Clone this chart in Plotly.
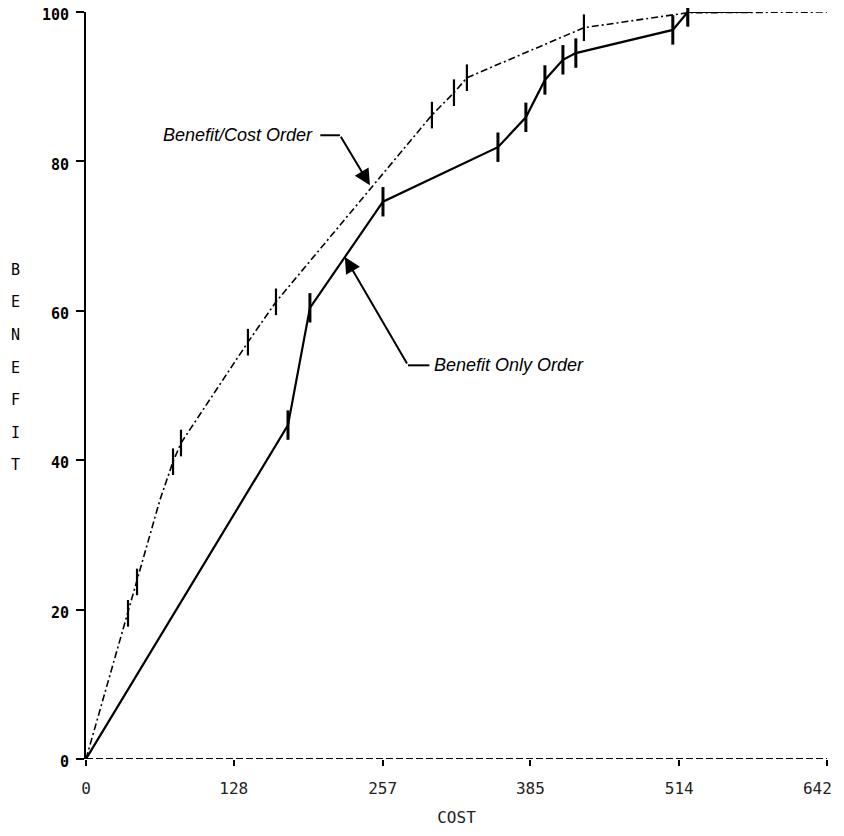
import plotly.graph_objects as go

# Benefit/Cost Order (dash-dot curve)
bc_cost = [0, 36.4, 44.2, 64.1, 75.4, 82.3, 140.3, 164.6, 299.7, 318.8, 330.0, 431.4, 521.4, 642]
bc_benefit = [0, 19.5, 23.7, 34.7, 39.8, 42.3, 55.8, 61.2, 86.2, 89.2, 91.2, 97.9, 99.9, 100]
bc_tick = [0, 1, 1, 0, 1, 1, 1, 1, 1, 1, 1, 1, 1, 0]

# Benefit Only Order (solid curve)
bo_cost = [0, 175.0, 194.0, 257.3, 356.9, 381.1, 397.6, 413.2, 424.4, 508.4, 521.4, 577]
bo_benefit = [0, 44.7, 60.4, 74.6, 81.9, 85.9, 90.9, 93.6, 94.5, 97.6, 100, 100]
bo_tick = [0, 1, 1, 1, 1, 1, 1, 1, 1, 1, 1, 0]

x_ticks = [0, 128, 257, 385, 514, 642]
y_ticks = [0, 20, 40, 60, 80, 100]
y_title_letters = list("BENEFIT")

MONO = "DejaVu Sans Mono"
SANS = "Liberation Sans"

# last x label padded so it stays inside the visible page edge
x_ticktext = [str(v) for v in x_ticks]
x_ticktext[-1] = x_ticktext[-1] + "&nbsp;&nbsp;"

fig = go.Figure()

fig.add_trace(go.Scatter(
    x=bc_cost, y=bc_benefit, mode="lines",
    line=dict(color="black", width=1.6, dash="7px,3px,2px,3px"),
    cliponaxis=False, showlegend=False))
fig.add_trace(go.Scatter(
    x=[c for c, t in zip(bc_cost, bc_tick) if t],
    y=[b for b, t in zip(bc_benefit, bc_tick) if t],
    mode="markers",
    marker=dict(symbol="line-ns", size=19, line=dict(color="black", width=2.2)),
    cliponaxis=False, showlegend=False))

fig.add_trace(go.Scatter(
    x=bo_cost, y=bo_benefit, mode="lines",
    line=dict(color="black", width=2.2),
    cliponaxis=False, showlegend=False))
fig.add_trace(go.Scatter(
    x=[c for c, t in zip(bo_cost, bo_tick) if t],
    y=[b for b, t in zip(bo_benefit, bo_tick) if t],
    mode="markers",
    marker=dict(symbol="line-ns", size=21, line=dict(color="black", width=3)),
    cliponaxis=False, showlegend=False))

# dashed x-axis line
fig.add_shape(type="line", xref="x", yref="y", x0=0, x1=642, y0=0, y1=0,
              line=dict(color="black", width=2, dash="7px,3px"))

# Benefit/Cost Order label with bent arrow
fig.add_annotation(x=198.4, y=83.5, xref="x", yref="y", text="Benefit/Cost Order",
                   showarrow=False, xanchor="right", yanchor="middle",
                   font=dict(family=SANS, size=18, color="black", style="italic"))
fig.add_shape(type="line", xref="x", yref="y", x0=203, x1=220, y0=83.5, y1=83.5,
              line=dict(color="black", width=2))
fig.add_annotation(x=246, y=76.8, xref="x", yref="y", ax=-30, ay=-50, text="",
                   showarrow=True, arrowhead=2, arrowsize=1.6, arrowwidth=2,
                   arrowcolor="black", standoff=0)

# Benefit Only Order label with bent arrow
fig.add_annotation(x=299.7, y=52.7, xref="x", yref="y", text="Benefit Only Order",
                   showarrow=False, xanchor="left", yanchor="middle",
                   font=dict(family=SANS, size=18, color="black", style="italic"))
fig.add_shape(type="line", xref="x", yref="y", x0=279, x1=297.5, y0=52.7, y1=52.7,
              line=dict(color="black", width=2))
fig.add_annotation(x=224.3, y=67.2, xref="x", yref="y", ax=63, ay=108, text="",
                   showarrow=True, arrowhead=2, arrowsize=1.6, arrowwidth=2,
                   arrowcolor="black", standoff=0)

# stacked y-axis title letters (paper coords; plot spans 741 x 747 px)
for i, ch in enumerate(y_title_letters):
    py = 270 + i * 32.5
    fig.add_annotation(x=(15 - 86) / 741, y=(759 - py) / 747, xref="paper", yref="paper",
                       text=ch, showarrow=False, xanchor="center", yanchor="middle",
                       font=dict(family=MONO, size=15, color="black"))

# page body has an 8px margin: figure offset by 8px so the plot sits at page px 86..827, 12..759
fig.update_layout(
    width=836, height=820,
    margin=dict(l=78, r=17, t=4, b=69),
    plot_bgcolor="white", paper_bgcolor="white",
    xaxis=dict(range=[0, 642], tickvals=x_ticks, ticktext=x_ticktext,
               showgrid=False, zeroline=False, showline=False, automargin=False,
               ticks="outside", ticklen=6, tickwidth=2, tickcolor="black",
               ticklabelstandoff=9, ticklabeloverflow="allow",
               tickfont=dict(family=MONO, size=16, color="#222"),
               title=dict(text="COST", font=dict(family=MONO, size=16, color="#222"),
                          standoff=14)),
    yaxis=dict(range=[0, 100], tickvals=y_ticks, ticktext=[str(v) for v in y_ticks],
               showgrid=False, zeroline=False, showline=True, linecolor="black",
               linewidth=2, ticks="outside", ticklen=8, tickwidth=2, tickcolor="black",
               ticklabelstandoff=4, automargin=False, ticklabeloverflow="allow",
               ticklabelshift=3,
               tickfont=dict(family=MONO, size=15, color="black", weight="bold")),
)

fig.write_html("out.html")
